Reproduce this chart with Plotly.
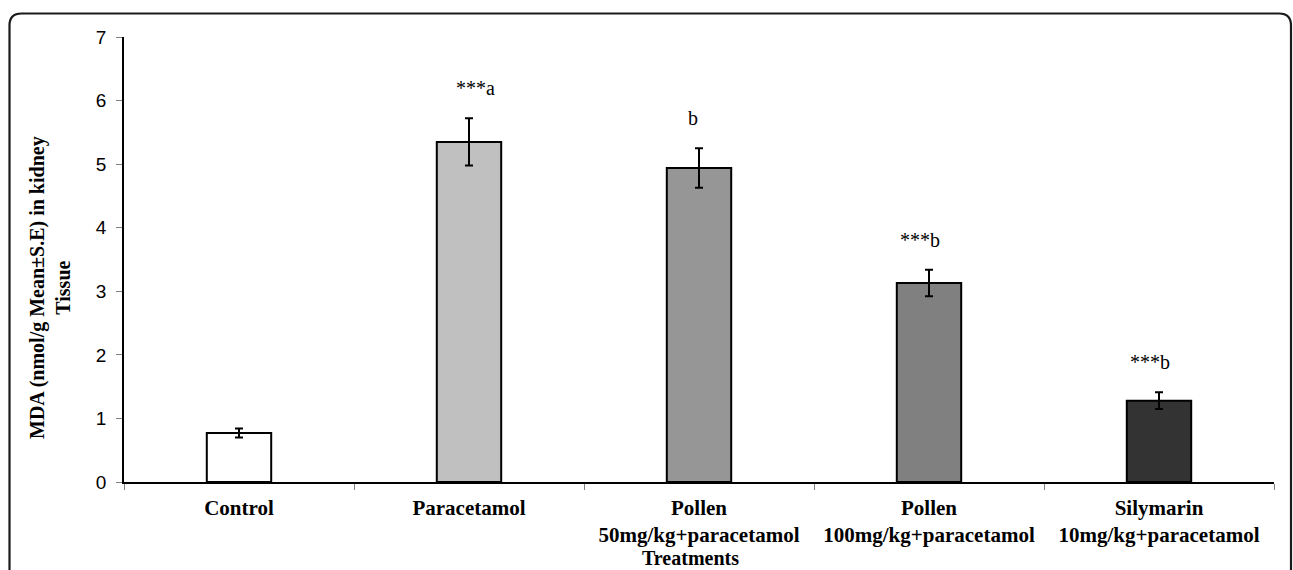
import plotly.graph_objects as go

# ---- data ----
label_line1 = ["Control", "Paracetamol", "Pollen", "Pollen", "Silymarin"]
label_line2 = ["", "", "50mg/kg+paracetamol", "100mg/kg+paracetamol", "10mg/kg+paracetamol"]
mda_mean = [0.77, 5.35, 4.94, 3.13, 1.28]
mda_se = [0.07, 0.37, 0.31, 0.21, 0.13]
sig_labels = ["", "***a", "b", "***b", "***b"]
y_ticks = [0, 1, 2, 3, 4, 5, 6, 7]

# ---- style ----
bar_colors = ["#FFFFFF", "#C0C0C0", "#969696", "#808080", "#333333"]
sig_xshift = [0, 6, -6, -9, -9]

W, H = 1293, 570
ML, MR, MT, MB = 124, 19, 37, 88
PW, PH = W - ML - MR, H - MT - MB

def px(xp):
    return (xp - ML) / PW

def py(yp):
    return (H - MB - yp) / PH

categories = [a if not b else a + "<br>" + b for a, b in zip(label_line1, label_line2)]

fig = go.Figure()
fig.add_trace(go.Bar(
    x=categories,
    y=mda_mean,
    width=0.28,
    marker=dict(color=bar_colors, line=dict(color="black", width=2)),
    error_y=dict(type="data", array=mda_se, visible=True, color="black",
                 thickness=2, width=4),
    showlegend=False,
))

serif = "Liberation Serif, Times New Roman, serif"

annotations = []
for c, m, s, lab, dx in zip(categories, mda_mean, mda_se, sig_labels, sig_xshift):
    if lab:
        annotations.append(dict(
            x=c, y=m + s, xref="x", yref="y", text=lab, showarrow=False,
            xanchor="center", yanchor="middle", yshift=30, xshift=dx,
            font=dict(family=serif, size=20, color="black"),
        ))

# y-axis title
annotations.append(dict(
    x=px(50), y=py(288), xref="paper", yref="paper",
    text="<b>MDA (nmol/g Mean±S.E) in kidney<br>Tissue</b>",
    textangle=-90, showarrow=False, xanchor="center", yanchor="middle",
    font=dict(family=serif, size=20, color="black"),
))
# x-axis title
annotations.append(dict(
    x=px(690), y=py(570), xref="paper", yref="paper",
    text="<b>Treatments</b>", showarrow=False, xanchor="center", yanchor="bottom",
    borderpad=0,
    font=dict(family=serif, size=20, color="black"),
))

# rounded border frame
x0, x1 = px(9.5), px(1291)
y0, y1 = py(13.5), py(600)
rx, ry = 12 / PW, 12 / PH
frame = (f"M {x0},{y1} L {x0},{y0 - ry} Q {x0},{y0} {x0 + rx},{y0} "
         f"L {x1 - rx},{y0} Q {x1},{y0} {x1},{y0 - ry} L {x1},{y1}")

fig.update_layout(
    width=W, height=H,
    margin=dict(l=ML, r=MR, t=MT, b=MB, pad=0, autoexpand=False),
    paper_bgcolor="white", plot_bgcolor="white",
    annotations=annotations,
    shapes=[dict(type="path", path=frame, xref="paper", yref="paper",
                 line=dict(color="#1a1a1a", width=2.2), layer="above")],
    xaxis=dict(
        type="category", tickson="boundaries", ticks="outside", ticklen=6,
        tickcolor="#808080", tickwidth=1, showline=True, linecolor="black",
        linewidth=1.5, showgrid=False, zeroline=False, tickangle=0,
        automargin=False,
        tickfont=dict(family=serif, size=21, color="black"),
        tickprefix="<b>", ticksuffix="</b>", ticklabelstandoff=6,
    ),
    yaxis=dict(
        range=[0, 7], tickvals=y_ticks, ticks="outside", ticklen=6,
        tickcolor="#808080", tickwidth=1, showline=True, linecolor="black",
        linewidth=1.5, showgrid=False, zeroline=False, automargin=False,
        tickfont=dict(family="Liberation Sans, Arial, sans-serif", size=19, color="black"),
        ticklabelstandoff=6,
    ),
)

fig.write_html("out.html")
